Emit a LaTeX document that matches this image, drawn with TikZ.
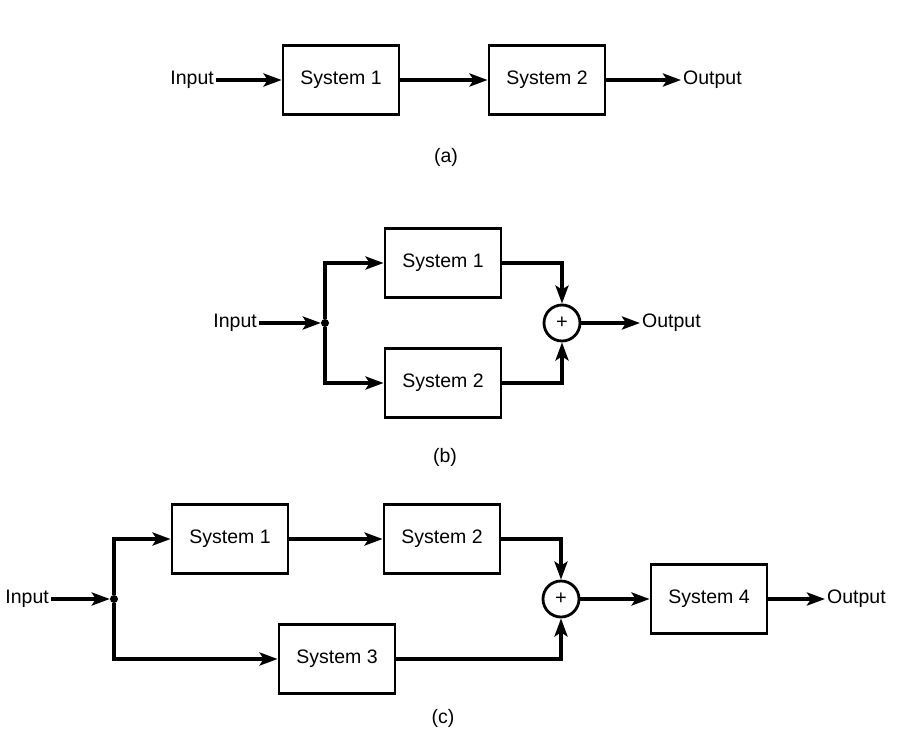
\documentclass[tikz,border=0pt]{standalone}
\usepackage{fontspec}
\setmainfont{Liberation Sans}
\usetikzlibrary{arrows.meta}
\usetikzlibrary{calc}

\begin{document}
\begin{tikzpicture}[x=1pt, y=-1pt,
	every node/.style={font=\fontsize{19.5}{22}\selectfont},
	sysbox/.style={draw, line width=2.8pt, minimum width=116pt, minimum height=69pt, inner sep=0pt},
	sumnode/.style={draw, circle, line width=2.8pt, minimum size=36pt, inner sep=0pt, font=\fontsize{20}{22}\selectfont},
	sig/.style={inner sep=2pt},
	dot/.style={circle, fill, inner sep=0pt, minimum size=8pt},
	flow/.style={line width=3.6pt, -{Stealth[length=18pt,width=13pt,inset=4pt]}}]
\useasboundingbox (0,0) rectangle (908,750);

% (a) series
\node[sig, anchor=east] (inA) at (216,80) {Input};
\node[sysbox] (sysA1) at (341,80) {System 1};
\node[sysbox] (sysA2) at (547,80) {System 2};
\node[sig, anchor=west] (outA) at (681,80) {Output};
\node (labA) at (446,157) {(a)};
\path[flow]
(inA) edge (sysA1)
(sysA1) edge (sysA2)
(sysA2) edge (outA)
;

% (b) parallel
\node[sig, anchor=east] (inB) at (259,323) {Input};
\node[dot] (jB) at (325,323) {};
\node[sysbox] (sysB1) at (443,263) {System 1};
\node[sysbox] (sysB2) at (443,383) {System 2};
\node[sumnode] (sumB) at (562,323) {+};
\node[sig, anchor=west] (outB) at (640,323) {Output};
\node (labB) at (445,457) {(b)};
\draw[flow] (inB) -- (jB);
\draw[flow] (jB) |- (sysB1);
\draw[flow] (jB) |- (sysB2);
\draw[flow] (sysB1) -| (sumB);
\draw[flow] (sysB2) -| (sumB);
\draw[flow] (sumB) -- (outB);

% (c) combination
\node[sig, anchor=east] (inC) at (51,599) {Input};
\node[dot] (jC) at (114,599) {};
\node[sysbox] (sysC1) at (230,539) {System 1};
\node[sysbox] (sysC2) at (442,539) {System 2};
\node[sysbox] (sysC3) at (337,659) {System 3};
\node[sumnode] (sumC) at (561,599) {+};
\node[sysbox] (sysC4) at (709,599) {System 4};
\node[sig, anchor=west] (outC) at (825,599) {Output};
\node (labC) at (443,718) {(c)};
\draw[flow] (inC) -- (jC);
\draw[flow] (jC) |- (sysC1);
\draw[flow] (jC) |- (sysC3);
\draw[flow] (sysC1) -- (sysC2);
\draw[flow] (sysC2) -| (sumC);
\draw[flow] (sysC3) -| (sumC);
\draw[flow] (sumC) -- (sysC4);
\draw[flow] (sysC4) -- (outC);
\end{tikzpicture}
\end{document}
